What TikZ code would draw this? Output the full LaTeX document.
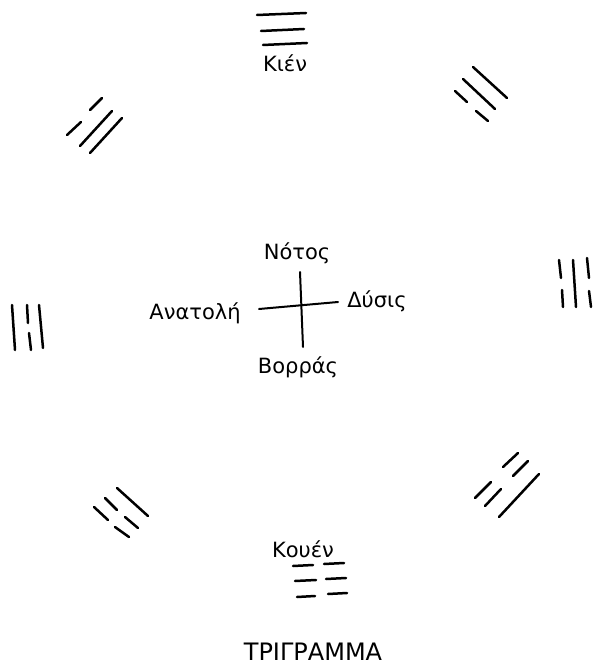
\documentclass[tikz,border=0pt]{standalone}
\usepackage{fontspec}
\setmainfont{DejaVu Sans}
\usepackage{tikz}

\begin{document}
\begin{tikzpicture}[line cap=round,x=1pt,y=-1pt,
  lbl/.style={inner sep=0pt,font=\fontsize{21}{24}\selectfont},
  gram/.style={line width=2.5pt}]
\useasboundingbox (0,0) rectangle (597,668);
\draw[gram] (257,15)-- (306,13);
\draw[gram] (261,31)-- (304,29);
\draw[gram] (263,45)-- (307,43);
\node[lbl] (kien) at (285,63) {Κιέν};
\draw[gram] (473,67)-- (507,98);
\draw[gram] (463,79)-- (495,109);
\draw[gram] (455,91)-- (467,102);
\draw[gram] (476,111)-- (488,121);
\draw[gram] (90,110)-- (102,98);
\draw[gram] (67,135)-- (81,122);
\draw[gram] (80,146)-- (112,111);
\draw[gram] (90,153)-- (122,118);
\draw[gram] (559,260)-- (561,278);
\draw[gram] (562,290)-- (563,307);
\draw[gram] (573,260)-- (576,307);
\draw[gram] (587,258)-- (589,278);
\draw[gram] (589,291)-- (591,307);
\draw[gram] (12,305)-- (15,350);
\draw[gram] (27,305)-- (28,323);
\draw[gram] (29,333)-- (31,350);
\draw[gram] (39,305)-- (43,348);
\draw[gram] (117,488)-- (148,516);
\draw[gram] (105,498)-- (117,510);
\draw[gram] (125,517)-- (138,528);
\draw[gram] (94,507)-- (108,520);
\draw[gram] (115,527)-- (129,537);
\draw[gram] (475,498)-- (491,482);
\draw[gram] (503,467)-- (518,453);
\draw[gram] (485,506)-- (501,489);
\draw[gram] (513,476)-- (528,461);
\draw[gram] (499,517)-- (539,474);
\node[lbl] (kouen) at (303,549) {Κουέν};
\draw[gram] (293,566)-- (313,565);
\draw[gram] (324,564)-- (344,563);
\draw[gram] (295,581)-- (316,580);
\draw[gram] (326,579)-- (346,578);
\draw[gram] (297,597)-- (315,596);
\draw[gram] (328,594)-- (347,593);
\coordinate (up) at (300,272);
\coordinate (down) at (303,347);
\coordinate (left) at (259,309);
\coordinate (right) at (338,302);
\draw[line width=2pt] (up)-- (down);
\draw[line width=2pt] (left)-- (right);
\node[lbl] (notos) at (297,253) {Νότος};
\node[lbl] (anatoli) at (195,313) {Ανατολή};
\node[lbl] (dysis) at (377,301) {Δύσις};
\node[lbl] (borras) at (298,367) {Βορράς};
\node[inner sep=0pt,font=\fontsize{24}{27}\selectfont] (title) at (313,652) {ΤΡΙΓΡΑΜΜΑ};
\end{tikzpicture}
\end{document}
